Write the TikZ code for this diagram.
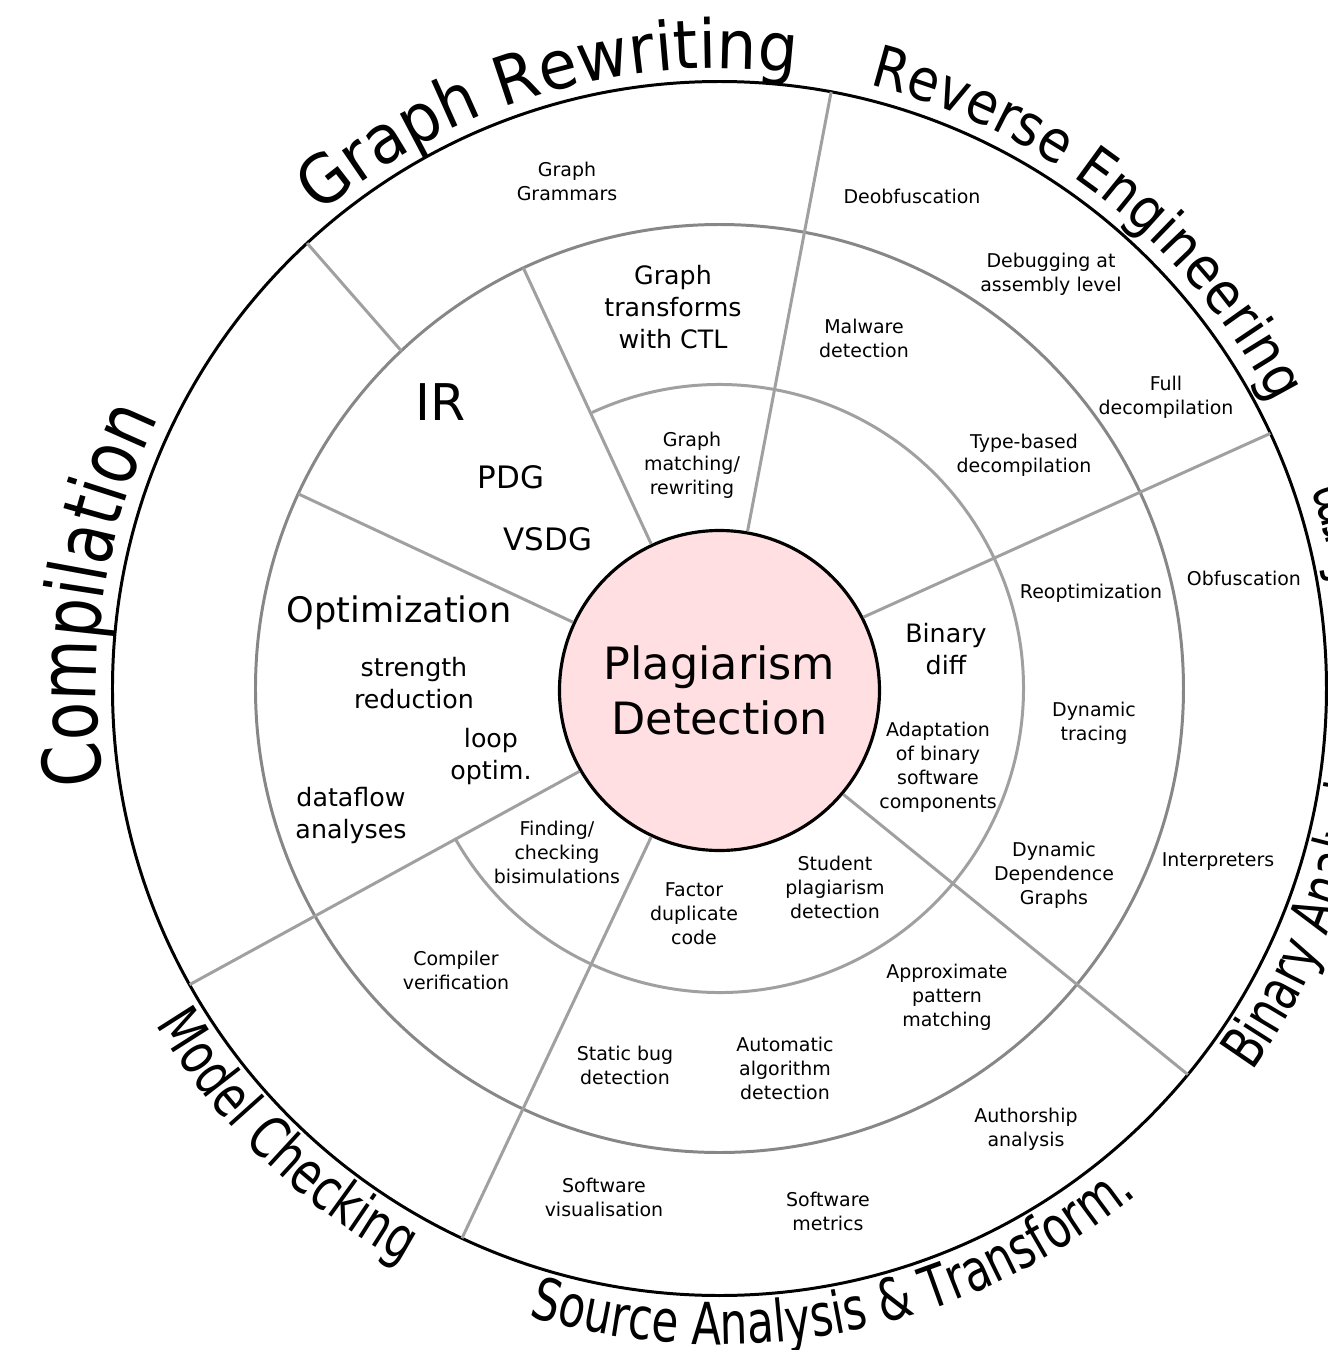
\documentclass[tikz,border=0pt]{standalone}
\usepackage{fontspec}
\setmainfont{DejaVu Sans}
\newfontfamily\fonteanelC[FakeStretch=0.78]{DejaVu Sans}
\newfontfamily\fonteanelG[FakeStretch=0.93]{DejaVu Sans}
\newfontfamily\fonteanelE[FakeStretch=0.88]{DejaVu Sans}
\newfontfamily\fonteanelS[FakeStretch=0.75]{DejaVu Sans}
\usetikzlibrary{decorations.text}
\usepackage{xcolor}
\definecolor{rosa}{RGB}{255, 223, 225}
\definecolor{cinza}{RGB}{160, 160, 160}
\definecolor{cinzaE}{RGB}{135, 135, 135}
\newcommand{\rotuloC}{\fonteanelC\fontsize{22.8}{26}\selectfont}
\newcommand{\rotuloG}{\fonteanelG\fontsize{19.2}{22}\selectfont}
\newcommand{\rotuloE}{\fonteanelE\fontsize{16.5}{19}\selectfont}
\newcommand{\rotuloS}{\fonteanelS\fontsize{16.6}{19}\selectfont}
\tikzset{
  texto/.style={inner sep=0pt, align=center, text=black},
  textoP/.style={texto, font=\fontsize{5.4}{6.83}\selectfont},
  textoM/.style={texto, font=\fontsize{7.2}{9.1}\selectfont},
  rotulo/.style={decorate, decoration={text along path, text align=center, text={#1}}},
}

\begin{document}
\begin{tikzpicture}[
    raio/.style={draw=cinza, line width=0.85pt},
    anel/.style={draw=cinzaE, line width=0.85pt},
    anelclaro/.style={draw=cinza, line width=0.85pt},
    nucleo/.style={
        circle,
        draw=black,
        line width=0.9pt,
        fill=rosa,
        minimum size=3.2cm,
        inner sep=0pt,
        align=center,
        font=\fontsize{12.66}{15.65}\selectfont
    }
]
\useasboundingbox (-7.195,-6.615) rectangle (6.085,6.885);
\clip (-7.195,-6.615) rectangle (6.085,6.885);

\draw[anel] (0,0) circle (4.64);
\draw[anelclaro] (-150.5:3.04) arc[start angle=-150.5, end angle=114.8, radius=3.04];
\draw[line width=0.85pt] (0,0) circle (6.07);

\node[nucleo] (centro) at (0,-0.02) {Plagiarism\\Detection};

\draw[raio] (centro.115) -- (115:4.64);
\draw[raio] (133.3:4.64) -- (132.8:6.07);
\draw[raio] (centro.80) -- (79.4:6.07);
\draw[raio] (centro.27) -- (24.85:6.07);
\draw[raio] (centro.155) -- (155.2:4.64);
\draw[raio] (centro.210) -- (209.2:6.07);
\draw[raio] (centro.245) -- (244.9:6.07);
\draw[raio] (centro.-40) -- (-39.5:6.07);

\node[textoP] (casamento) at (-0.275,2.235) {Graph\\matching/\\rewriting};
\node[textoP] (adaptacao) at (2.185,-0.785) {Adaptation\\of binary\\software\\components};
\node[textoP] (estudante) at (1.155,-1.985) {Student\\plagiarism\\detection};
\node[textoP] (duplicado) at (-0.255,-2.255) {Factor\\duplicate\\code};
\node[textoP] (bissim) at (-1.625,-1.635) {Finding/\\checking\\bisimulations};
\node[textoP] (malware) at (1.445,3.505) {Malware\\detection};
\node[textoP] (tipos) at (3.045,2.335) {Type-based\\decompilation};
\node[textoP] (reotim) at (3.715,0.955) {Reoptimization};
\node[textoP] (rastreio) at (3.745,-0.345) {Dynamic\\tracing};
\node[textoP] (ddg) at (3.345,-1.865) {Dynamic\\Dependence\\Graphs};
\node[textoP] (aproximado) at (2.275,-3.085) {Approximate\\pattern\\matching};
\node[textoP] (algoritmo) at (0.655,-3.795) {Automatic\\algorithm\\detection};
\node[textoP] (bugs) at (-0.945,-3.765) {Static bug\\detection};
\node[textoP] (verificacao) at (-2.635,-2.815) {Compiler\\verification};
\node[textoP] (gramaticas) at (-1.525,5.075) {Graph\\Grammars};
\node[textoP] (desofusc) at (1.925,4.925) {Deobfuscation};
\node[textoP] (depuracao) at (3.315,4.145) {Debugging at\\assembly level};
\node[textoP] (decompil) at (4.465,2.915) {Full\\decompilation};
\node[textoP] (ofusc) at (5.245,1.105) {Obfuscation};
\node[textoP] (interp) at (4.985,-1.735) {Interpreters};
\node[textoP] (autoria) at (3.065,-4.405) {Authorship\\analysis};
\node[textoP] (metricas) at (1.085,-5.225) {Software\\metrics};
\node[textoP] (visual) at (-1.155,-5.085) {Software\\visualisation};

\node[textoM] (ctl) at (-0.465,3.815) {Graph\\transforms\\with CTL};
\node[textoM] (bindiff) at (2.265,0.395) {Binary\\diff};
\node[textoM] (reducao) at (-3.055,0.055) {strength\\reduction};
\node[textoM] (laco) at (-2.285,-0.685) {loop\\optim.};
\node[textoM] (fluxo) at (-3.685,-1.275) {dataflow\\analyses};

\node[texto, font=\fontsize{14.4}{16}\selectfont] (ir) at (-2.785,2.865) {IR};
\node[texto, font=\fontsize{8.8}{10}\selectfont] (pdg) at (-2.085,2.115) {PDG};
\node[texto, font=\fontsize{8.8}{10}\selectfont] (vsdg) at (-1.715,1.495) {VSDG};
\node[texto, font=\fontsize{10}{12}\selectfont] (otim) at (-3.205,0.755) {Optimization};

\path[rotulo={|\rotuloG|Graph Rewriting}] (146.5:6.2) arc[start angle=146.5, end angle=66.5, radius=6.2];
\path[rotulo={|\rotuloE|Reverse Engineering}] (91.65:6.22) arc[start angle=91.65, end angle=11.65, radius=6.22];
\path[rotulo={|\rotuloC|Compilation}] (211.5:6.23) arc[start angle=211.5, end angle=131.5, radius=6.23];
\path[rotulo={|\rotuloS|Model Checking}] (186:6.56) arc[start angle=186, end angle=266, radius=6.56];
\path[rotulo={|\rotuloS|Source Analysis {\&} Transform.}] (231.3:6.56) arc[start angle=231.3, end angle=331.3, radius=6.56];
\path[rotulo={|\rotuloS|Binary Analysis {\&} Transform.}] (-58:6.56) arc[start angle=-58, end angle=42, radius=6.56];

\end{tikzpicture}
\end{document}
